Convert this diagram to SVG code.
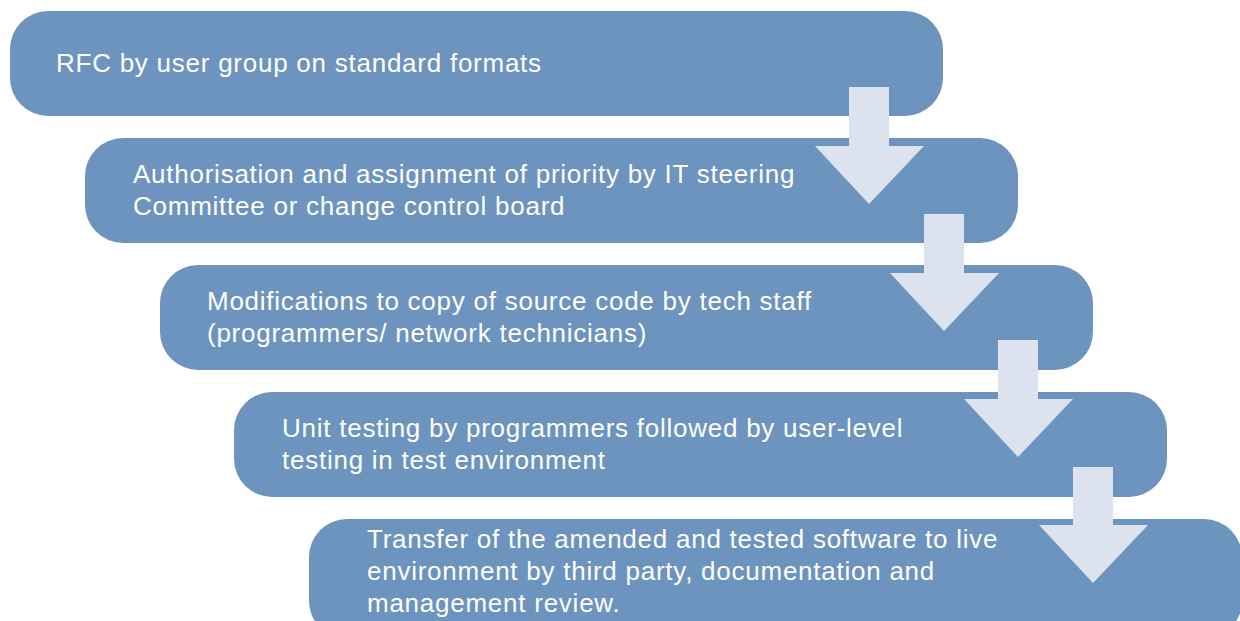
<svg xmlns="http://www.w3.org/2000/svg" width="1240" height="621" viewBox="0 0 1240 621">
<style>
.box{fill:#6d93bf;}
.arrow{fill:#dce3ef;}
.t{fill:#ffffff;font-family:"Liberation Sans",Arial,sans-serif;font-size:26px;letter-spacing:0.75px;}
</style>
<rect width="1240" height="621" fill="#ffffff"/>
<g id="node1"><rect class="box" x="10" y="11" width="933" height="105" rx="38" ry="38"/>
<text class="t" x="56" y="72">RFC by user group on standard formats</text></g>
<g id="node2"><rect class="box" x="85" y="138" width="933" height="105" rx="38" ry="38"/>
<text class="t" x="133" y="183">Authorisation and assignment of priority by IT steering</text>
<text class="t" x="133" y="215">Committee or change control board</text></g>
<g id="node3"><rect class="box" x="160" y="265" width="933" height="105" rx="38" ry="38"/>
<text class="t" x="207" y="310">Modifications to copy of source code by tech staff</text>
<text class="t" x="207" y="342">(programmers/ network technicians)</text></g>
<g id="node4"><rect class="box" x="234" y="392" width="933" height="105" rx="38" ry="38"/>
<text class="t" x="282" y="437">Unit testing by programmers followed by user-level</text>
<text class="t" x="282" y="469">testing in test environment</text></g>
<g id="node5"><rect class="box" x="309" y="519" width="933" height="120" rx="38" ry="38"/>
<text class="t" x="367" y="548">Transfer of the amended and tested software to live</text>
<text class="t" x="367" y="580">environment by third party, documentation and</text>
<text class="t" x="367" y="612">management review.</text></g>
<g id="connectors">
<polygon class="arrow" points="849,87 889,87 889,146 924,146 869,204 815,146 849,146"/>
<polygon class="arrow" points="924,214 964,214 964,273 999,273 944,331 890,273 924,273"/>
<polygon class="arrow" points="998,340 1038,340 1038,399 1073,399 1018,457 964,399 998,399"/>
<polygon class="arrow" points="1073,467 1113,467 1113,525 1148,525 1093,583 1039,525 1073,525"/>
</g>
</svg>
